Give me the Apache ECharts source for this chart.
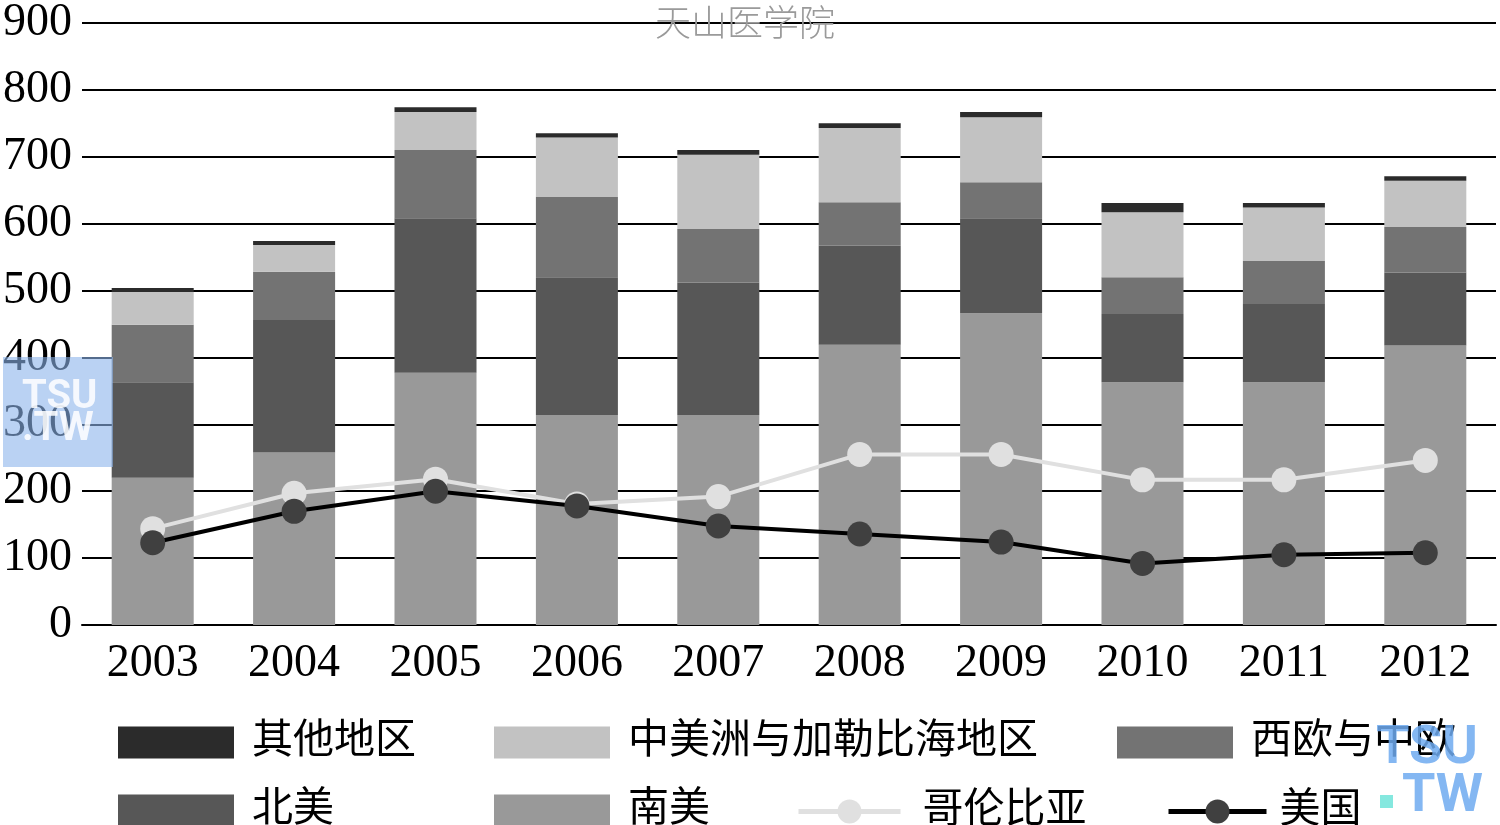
<!DOCTYPE html>
<html>
<head>
<meta charset="utf-8">
<script src="https://cdn.jsdelivr.net/npm/echarts@6/dist/echarts.min.js"></script>
<style>html,body{margin:0;padding:0;background:#fff;}#c{width:1500px;height:825px;}</style>
</head>
<body>
<div id="c"></div>
<script>
const years = ['2003','2004','2005','2006','2007','2008','2009','2010','2011','2012'];
const nanMei   = [220, 258, 377, 314, 314, 419, 466, 363, 363, 418];
const beiMei   = [143, 198, 231, 206, 198, 148, 142, 102, 117, 109];
const xiOu     = [86, 72, 102, 120, 80, 65, 54, 55, 64, 68];
const zhongMei = [49, 40, 57, 89, 111, 111, 97, 97, 80, 69];
const qiTa     = [6, 6, 7, 6, 7, 7, 8, 14, 7, 7];
const colombia = [144, 197, 218, 181, 192, 255, 255, 217, 217, 246];
const usa      = [123, 170, 200, 178, 148, 136, 124, 92, 105, 108];
const yTicks   = [0, 900, 100];

const serif = "'Liberation Serif', 'Times New Roman', 'Noto Sans CJK SC', serif";
const chart = echarts.init(document.getElementById('c'));

function barLegend(name, left, top) {
  return {
    data: [name], left: left, top: top, orient: 'horizontal', padding: 0,
    itemWidth: 116, itemHeight: 32, icon: 'rect',
    textStyle: { fontSize: 41, color: '#000', fontFamily: serif, padding: [0, 0, 0, 13] },
    selectedMode: false
  };
}
function lineLegend(name, left, top, w, lineColor, fillColor, gap) {
  return {
    data: [name], left: left, top: top, orient: 'horizontal', padding: 0,
    itemWidth: w, itemHeight: 30,
    lineStyle: { width: 5, color: lineColor },
    itemStyle: { color: fillColor },
    textStyle: { fontSize: 41, color: '#000', fontFamily: serif, padding: [0, 0, 0, gap] },
    selectedMode: false
  };
}

const barSeries = [
  ['南美', nanMei, '#999999'],
  ['北美', beiMei, '#575757'],
  ['西欧与中欧', xiOu, '#737373'],
  ['中美洲与加勒比海地区', zhongMei, '#c2c2c2'],
  ['其他地区', qiTa, '#2b2b2b']
].map(([n, d, c]) => ({
  name: n, type: 'bar', stack: 'total', data: d, barWidth: '58%',
  itemStyle: { color: c }, z: 2
}));

chart.setOption({
  animation: false,
  backgroundColor: '#fff',
  grid: { left: 78, right: 4, top: 17, bottom: 200, containLabel: false },
  xAxis: {
    type: 'category', data: years,
    axisLine: { lineStyle: { color: '#000', width: 2 } },
    axisTick: { show: false },
    axisLabel: { fontSize: 46, color: '#000', fontFamily: serif, margin: 16 }
  },
  yAxis: {
    type: 'value', min: yTicks[0], max: yTicks[1], interval: yTicks[2],
    axisLine: { show: false }, axisTick: { show: false },
    splitLine: { lineStyle: { color: '#000', width: 2 } },
    axisLabel: { fontSize: 46, color: '#000', fontFamily: serif, margin: 10 }
  },
  legend: [
    barLegend('其他地区', 118, 722),
    barLegend('中美洲与加勒比海地区', 494, 722),
    barLegend('西欧与中欧', 1117, 722),
    barLegend('北美', 118, 790),
    barLegend('南美', 494, 790),
    lineLegend('哥伦比亚', 796, 791, 102, '#e0e0e0', '#e0e0e0', 17),
    lineLegend('美国', 1166, 791, 98, '#000', '#404040', 8)
  ],
  series: barSeries.concat([
    {
      name: '哥伦比亚', type: 'line', data: colombia, z: 5,
      symbol: 'circle', symbolSize: 25,
      lineStyle: { color: '#e0e0e0', width: 4 },
      itemStyle: { color: '#e0e0e0' }
    },
    {
      name: '美国', type: 'line', data: usa, z: 6,
      symbol: 'circle', symbolSize: 25,
      lineStyle: { color: '#000', width: 4 },
      itemStyle: { color: '#404040' }
    }
  ]),
  graphic: [
    { type: 'text', left: 655, top: 4, z: 20,
      style: { text: '天山医学院', fontSize: 36, fill: '#9a9a9a', fontFamily: "'Noto Sans CJK SC', sans-serif", fontWeight: 300 } },
    { type: 'rect', left: 3, top: 357, z: 20,
      shape: { width: 110, height: 110 },
      style: { fill: 'rgba(140,180,235,0.6)' } },
    { type: 'text', left: 22, top: 378, z: 21,
      style: { text: 'TSU', fontSize: 40, fontWeight: 'bold', fill: 'rgba(255,255,255,0.85)', fontFamily: 'Roboto, sans-serif' } },
    { type: 'text', left: 22, top: 410, z: 21,
      style: { text: '.TW', fontSize: 40, fontWeight: 'bold', fill: 'rgba(255,255,255,0.85)', fontFamily: 'Roboto, sans-serif' } },
    { type: 'text', left: 1376, top: 722, z: 21,
      style: { text: 'TSU', fontSize: 54, fontWeight: 'bold', fill: 'rgba(110,170,240,0.85)', fontFamily: 'Roboto, sans-serif' } },
    { type: 'rect', left: 1380, top: 795, z: 21,
      shape: { width: 13, height: 13 },
      style: { fill: 'rgba(120,230,220,0.9)' } },
    { type: 'text', left: 1402, top: 770, z: 21,
      style: { text: 'TW', fontSize: 54, fontWeight: 'bold', fill: 'rgba(110,170,240,0.85)', fontFamily: 'Roboto, sans-serif' } }
  ]
});
</script>
</body>
</html>
